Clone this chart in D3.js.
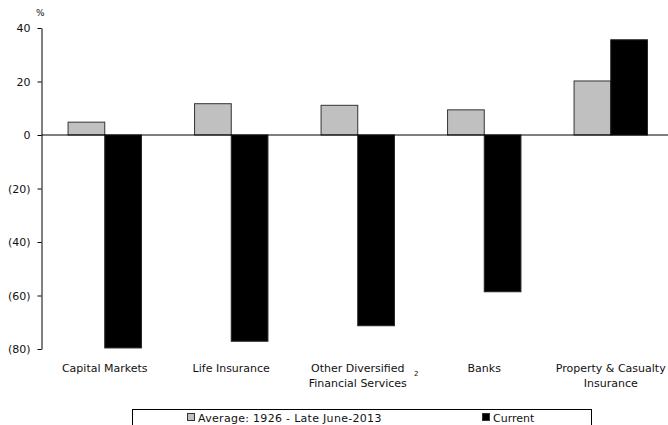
<!DOCTYPE html>
<html>
<head>
<meta charset="utf-8">
<script src="https://cdn.jsdelivr.net/npm/d3@7"></script>
<style>
  html, body { margin: 0; padding: 0; background: #fff; }
  svg { display: block; font-family: "DejaVu Sans", Verdana, sans-serif; }
</style>
</head>
<body>
<svg id="chart" width="668" height="425"></svg>
<script>
// Categories (each label may wrap onto two lines)
const categories = [
  ["Capital Markets"],
  ["Life Insurance"],
  ["Other Diversified", "Financial Services"],
  ["Banks"],
  ["Property & Casualty", "Insurance"]
];
const seriesNames = ["Average: 1926 - Late June-2013", "Current"];
const averageValues = [4.8, 11.7, 11.1, 9.4, 20.2];
const currentValues = [-79.6, -77.1, -71.3, -58.6, 35.6];
const yTicks = [40, 20, 0, -20, -40, -60, -80];
const seriesColors = ["#c0c0c0", "#000000"];

const svg = d3.select("#chart");
const margin = { left: 41.5, top: 28, right: -6, bottom: 76 };
const W = 668, H = 425;

const catKeys = categories.map((c, i) => i);
const x = d3.scaleBand()
  .domain(catKeys)
  .range([margin.left, W - margin.right])
  .paddingInner(0.42)
  .paddingOuter(0.21);
const xSub = d3.scaleBand().domain([0, 1]).range([0, x.bandwidth()]);

const y = d3.scaleLinear().domain([-80, 40]).range([349, 28]);

const fmt = v => v < 0 ? "(" + Math.abs(v) + ")" : String(v);

// Y axis
const yAxis = d3.axisLeft(y)
  .tickValues(yTicks)
  .tickFormat(fmt)
  .tickSizeOuter(0)
  .tickSizeInner(4)
  .tickPadding(7);
const gy = svg.append("g")
  .attr("transform", `translate(${margin.left},0)`)
  .call(yAxis);
gy.select(".domain").attr("stroke", "#000");
gy.selectAll(".tick line").attr("stroke", "#000");
gy.selectAll(".tick text")
  .attr("font-size", 11)
  .attr("fill", "#111")
  .attr("font-family", "DejaVu Sans, Verdana, sans-serif");

svg.append("text")
  .attr("x", 36).attr("y", 16)
  .attr("font-size", 9)
  .attr("fill", "#111")
  .text("%");

// Bars
const series = [averageValues, currentValues];
series.forEach((vals, s) => {
  svg.append("g").selectAll("rect")
    .data(vals)
    .join("rect")
    .attr("x", (d, i) => x(i) + xSub(s))
    .attr("width", xSub.bandwidth())
    .attr("y", d => y(Math.max(0, d)))
    .attr("height", d => Math.abs(y(d) - y(0)))
    .attr("fill", seriesColors[s])
    .attr("stroke", s === 0 ? "#333" : "#222")
    .attr("stroke-width", 1);
});

// Zero line
svg.append("line")
  .attr("x1", margin.left).attr("x2", W)
  .attr("y1", y(0)).attr("y2", y(0))
  .attr("stroke", "#000").attr("stroke-width", 1.2);

// Category labels
const labels = svg.append("g")
  .attr("font-size", 11)
  .attr("fill", "#111")
  .attr("text-anchor", "middle");
categories.forEach((lines, i) => {
  const t = labels.append("text")
    .attr("x", x(i) + x.bandwidth() / 2)
    .attr("y", 372);
  lines.forEach((ln, k) => {
    t.append("tspan")
      .attr("x", x(i) + x.bandwidth() / 2)
      .attr("dy", k === 0 ? 0 : 15)
      .text(ln);
  });
});
// Footnote marker
svg.append("text")
  .attr("x", 414).attr("y", 376)
  .attr("font-size", 7)
  .attr("fill", "#111")
  .text("2");

// Legend
const lg = svg.append("g");
lg.append("rect")
  .attr("x", 132.5).attr("y", 409.5)
  .attr("width", 459).attr("height", 30)
  .attr("fill", "#fff").attr("stroke", "#000");
const legendX = [187, 482];
seriesNames.forEach((name, s) => {
  lg.append("rect")
    .attr("x", legendX[s] + 0.5).attr("y", 413.5)
    .attr("width", 7).attr("height", 7)
    .attr("fill", seriesColors[s])
    .attr("stroke", "#333");
  lg.append("text")
    .attr("x", legendX[s] + 11).attr("y", 421.5)
    .attr("font-size", 11)
    .attr("letter-spacing", s === 0 ? 0.3 : 0)
    .attr("fill", "#111")
    .text(name);
});
</script>
</body>
</html>
